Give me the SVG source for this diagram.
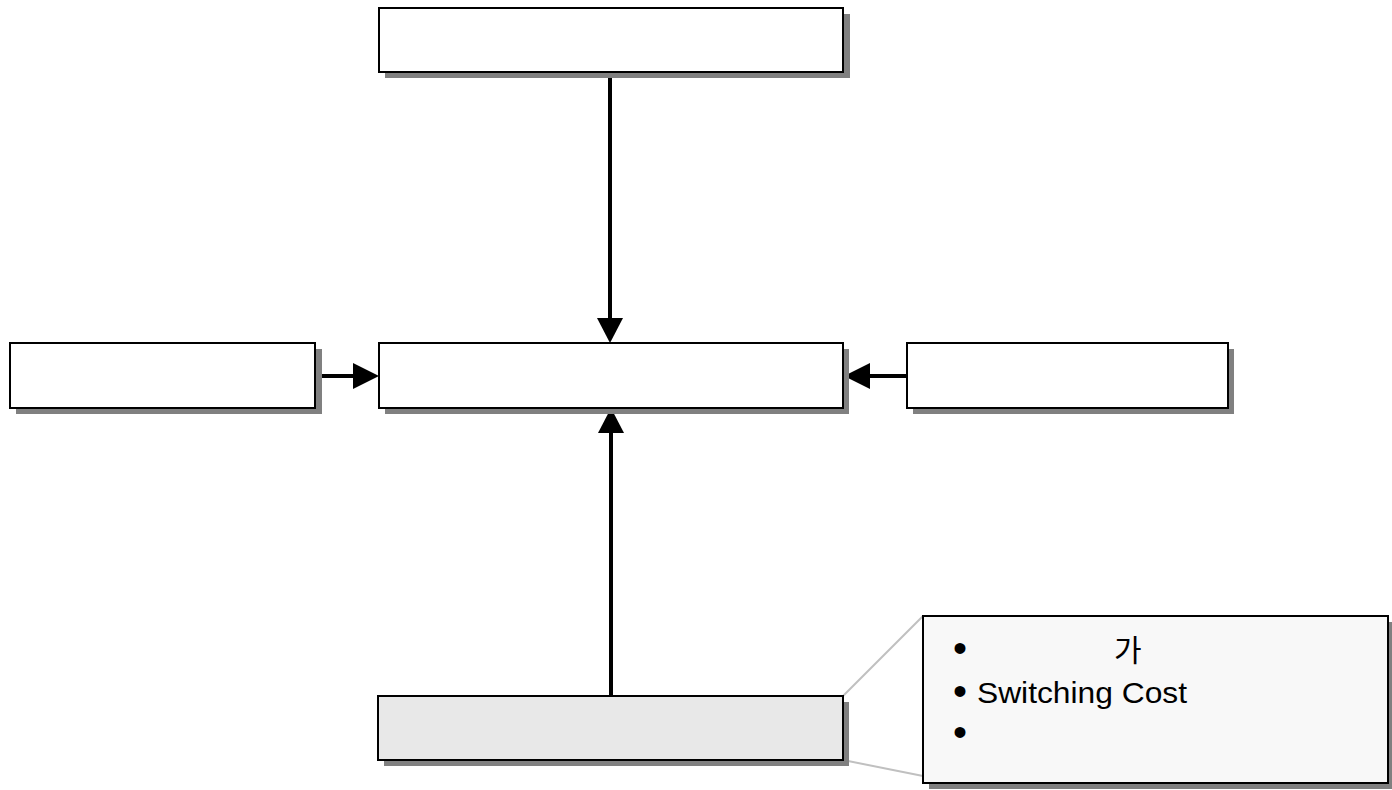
<svg xmlns="http://www.w3.org/2000/svg" width="1392" height="790" viewBox="0 0 1392 790">
<style>
.shadow{fill:#808080;stroke:none}
.box{fill:#ffffff;stroke:#000000;stroke-width:2}
.grey{fill:#e8e8e8}
.note{fill:#f8f8f8}
.conn{stroke:#000000;stroke-width:4;fill:none}
.head{fill:#000000;stroke:none}
.callout{stroke:#c0c0c0;stroke-width:2;fill:none}
.t{font-family:"Liberation Sans",Arial,"Noto Sans CJK KR",sans-serif;font-size:30px;fill:#000000}
.b{font-family:"Liberation Sans",Arial,sans-serif;font-size:40px;fill:#000000}
</style>
<rect width="1392" height="790" fill="#ffffff"/>
<g id="connectors">
<line class="conn" x1="610" y1="72" x2="610" y2="320"/>
<polygon class="head" points="597,318 623,318 610,343"/>
<line class="conn" x1="611" y1="696" x2="611" y2="430"/>
<polygon class="head" points="598,433 624,433 611,408"/>
<line class="conn" x1="316" y1="376" x2="356" y2="376"/>
<polygon class="head" points="353,363 353,389 379,376"/>
<line class="conn" x1="907" y1="376" x2="866" y2="376"/>
<polygon class="head" points="870,363 870,389 844,376"/>
<line class="callout" x1="843" y1="696" x2="923" y2="616"/>
<line class="callout" x1="843" y1="760" x2="923" y2="776"/>
</g>
<g id="node-top">
<rect class="shadow" x="385" y="14" width="465" height="64"/>
<rect class="box" x="379" y="8" width="464" height="64"/>
</g>
<g id="node-left">
<rect class="shadow" x="16" y="349" width="306" height="65"/>
<rect class="box" x="10" y="343" width="305" height="65"/>
</g>
<g id="node-center">
<rect class="shadow" x="385" y="349" width="464" height="65"/>
<rect class="box" x="379" y="343" width="464" height="65"/>
</g>
<g id="node-right">
<rect class="shadow" x="913" y="349" width="321" height="65"/>
<rect class="box" x="907" y="343" width="321" height="65"/>
</g>
<g id="node-bottom">
<rect class="shadow" x="384" y="702" width="465" height="64"/>
<rect class="box grey" x="378" y="696" width="465" height="64"/>
</g>
<g id="node-callout">
<rect class="shadow" x="929" y="622" width="465" height="167"/>
<rect class="box note" x="923" y="616" width="465" height="167"/>
<text class="b" x="953" y="662">•</text>
<text class="t" x="1114" y="661">가</text>
<text class="b" x="953" y="705">•</text>
<text class="t" x="977" y="703" textLength="210" lengthAdjust="spacingAndGlyphs">Switching Cost</text>
<text class="b" x="953" y="746">•</text>
</g>
</svg>
